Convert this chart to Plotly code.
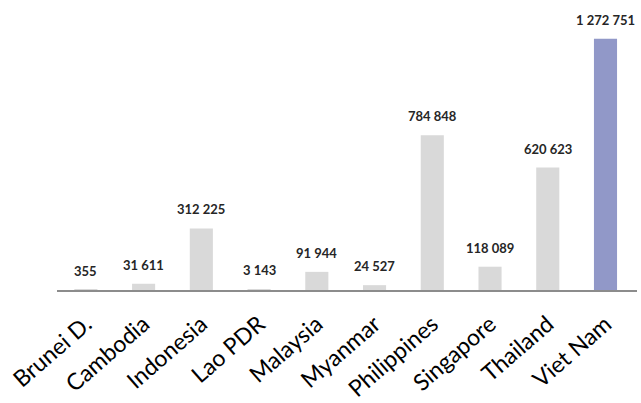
import plotly.graph_objects as go

countries = ["Brunei D.", "Cambodia", "Indonesia", "Lao PDR", "Malaysia",
             "Myanmar", "Philippines", "Singapore", "Thailand", "Viet Nam"]
values = [355, 31611, 312225, 3143, 91944, 24527, 784848, 118089, 620623, 1272751]

GREY = "#d9d9d9"
HIGHLIGHT = "#9198c8"
colors = [HIGHLIGHT if c == "Viet Nam" else GREY for c in countries]


def fmt(v):
    return f"{v:,}".replace(",", " ")


fig = go.Figure(go.Bar(
    x=countries,
    y=values,
    marker=dict(color=colors, line=dict(width=0)),
    hoverinfo="skip",
))

for c, v in zip(countries, values):
    fig.add_annotation(
        x=c, y=v, text=fmt(v), showarrow=False,
        yanchor="middle", yshift=19,
        font=dict(family="Lato", size=13, color="#262626", weight="bold"),
    )

fig.update_layout(
    width=641, height=403,
    margin=dict(l=57, r=4, t=25, b=113),
    paper_bgcolor="white", plot_bgcolor="white",
    bargap=0.6,
    showlegend=False,
    xaxis=dict(
        showline=True, linecolor="#8c8c8c", linewidth=1.5,
        ticks="", tickangle=-41, ticklabelstandoff=10, automargin=False,
        tickfont=dict(family="Lato", size=23, color="#000000"),
        showgrid=False, zeroline=False,
    ),
    yaxis=dict(
        range=[0, 1343000], visible=False, showgrid=False, zeroline=False,
    ),
)

fig.write_html("out.html")
